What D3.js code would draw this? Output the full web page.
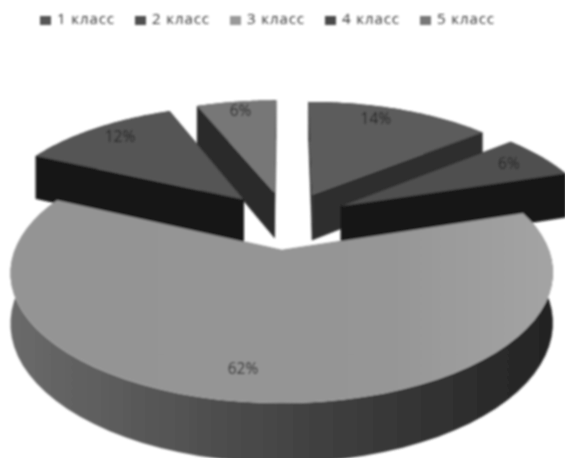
<!DOCTYPE html>
<html><head><meta charset="utf-8">
<script src="https://cdnjs.cloudflare.com/ajax/libs/d3/7.8.5/d3.min.js"></script>
<style>html,body{margin:0;background:#fff}svg{display:block}</style></head>
<body><svg id="c" width="565" height="458"></svg>
<script>
const categories = ["1 класс","2 класс","3 класс","4 класс","5 класс"];
const values = [14,6,62,12,6];
const topColors = ["#5c5c5c","#505050","#969696","#555555","#777777"];
const wallColors = ["#2f2f2f","#151515","#4a4a4a","#151515","#2b2b2b"];
const legendColors = ["#555555","#505050","#999999","#4a4a4a","#777777"];
const drawOrder = [4,0,3,1,2];
const labelRadius = [.84,.83,.82,.84,.87];
const labelTurn = [-4,0,5,1,0];

const W=565,H=458,cx=286,cy=220,rx=256,ry=116,dist=6,explode=.25,depth=47;
const svg=d3.select("#c");
const defs=svg.append("defs");
defs.append("filter").attr("id","soft").append("feGaussianBlur").attr("stdDeviation",.8);
const g3=defs.append("linearGradient").attr("id","wall3");
g3.append("stop").attr("offset","0").attr("stop-color","#6a6a6a");
g3.append("stop").attr("offset",".5").attr("stop-color","#454545");
g3.append("stop").attr("offset","1").attr("stop-color","#232323");
const g4=defs.append("linearGradient").attr("id","top3");
g4.append("stop").attr("offset","0").attr("stop-color","#949494");
g4.append("stop").attr("offset",".7").attr("stop-color","#969696");
g4.append("stop").attr("offset","1").attr("stop-color","#a4a4a4");

const root=svg.append("g").attr("filter","url(#soft)");
const arcs=d3.pie().sort(null).value(d=>d).startAngle(0).endAngle(2*Math.PI)(values);
const proj=(u,v,z=0)=>{const s=dist/(dist+v);return [cx+rx*u*s,cy-ry*v*s+z*s];};
const line=d3.line();
arcs.forEach(a=>{a.mid=(a.startAngle+a.endAngle)/2;a.ou=explode*Math.sin(a.mid);a.ov=explode*Math.cos(a.mid);});
const pt=(a,ang,r,z=0)=>proj(a.ou+r*Math.sin(ang),a.ov+r*Math.cos(ang),z);
const samples=a=>d3.range(0,61).map(i=>a.startAngle+(a.endAngle-a.startAngle)*i/60);

drawOrder.forEach(i=>{
  const a=arcs[i],ang=samples(a);
  const wall=i===2?"url(#wall3)":wallColors[i];
  const g=root.append("g");
  [a.startAngle,a.endAngle].forEach(t=>{
    g.append("path").attr("fill",wallColors[i]).attr("stroke",wallColors[i]).attr("stroke-width",.5)
     .attr("d",line([pt(a,t,0),pt(a,t,1),pt(a,t,1,depth),pt(a,t,0,depth)])+"Z");
  });
  g.append("path").attr("fill",wall)
   .attr("d",line([...ang.map(t=>pt(a,t,1)),...ang.slice().reverse().map(t=>pt(a,t,1,depth))])+"Z");
  g.append("path").attr("fill",i===2?"url(#top3)":topColors[i])
   .attr("d",line([pt(a,0,0),...ang.map(t=>pt(a,t,1))])+"Z");
});
arcs.forEach((a,i)=>{
  const [x,y]=pt(a,a.mid+labelTurn[i]*Math.PI/180,labelRadius[i]);
  root.append("text").attr("x",x).attr("y",y).attr("text-anchor","middle").attr("dominant-baseline","middle")
   .attr("font-family","Open Sans").attr("font-size",15.5).attr("fill","#222").text(values[i]+"%");
});
const lx=d3.scalePoint().domain(categories).range([40,420]);
const lg=root.append("g").selectAll("g").data(categories).join("g").attr("transform",d=>`translate(${lx(d)},20)`);
lg.append("rect").attr("x",0).attr("y",-4).attr("width",11).attr("height",9).attr("fill",(d,i)=>legendColors[i]);
lg.append("text").attr("x",17).attr("y",0).attr("dominant-baseline","middle").attr("font-family","Open Sans")
  .attr("font-size",15).attr("letter-spacing",.9).attr("fill","#333").text(d=>d);
</script></body></html>
